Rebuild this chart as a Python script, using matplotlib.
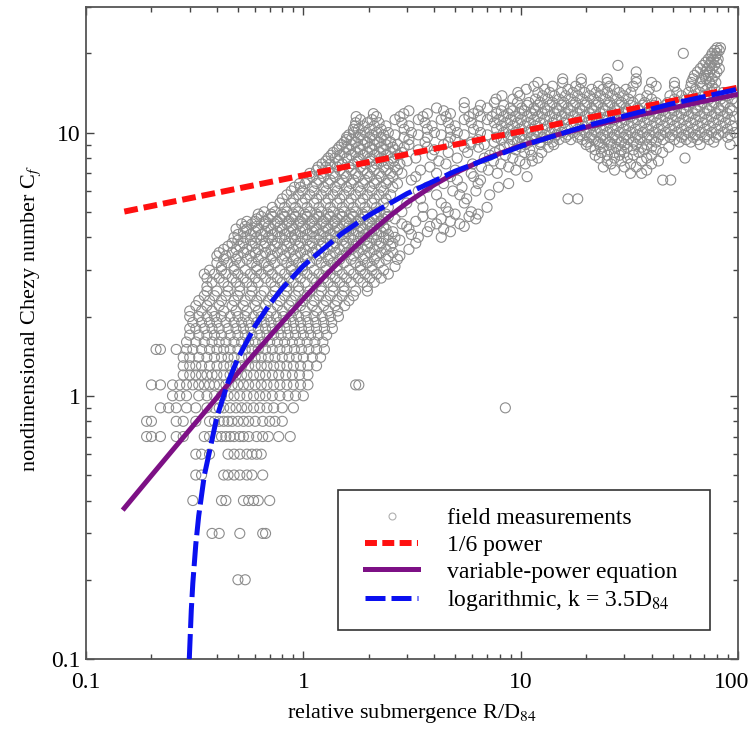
import matplotlib
matplotlib.use('Agg')
import matplotlib.pyplot as plt
import matplotlib.transforms as mtransforms
from matplotlib.lines import Line2D
from matplotlib.patches import Rectangle
from matplotlib.ticker import LogLocator, NullFormatter

# Fonte serifada parecida com Times
plt.rcParams['font.family'] = ['Liberation Serif', 'DejaVu Serif']
plt.rcParams['mathtext.fontset'] = 'stix'

# Medições de campo - parte baixa (valores de C_f arredondados a 0.1)
low_levels = [0.2, 0.3, 0.4, 0.5, 0.6, 0.7, 0.8, 0.9, 1.0, 1.1,
              1.2, 1.3, 1.4, 1.5, 1.6, 1.7, 1.8, 1.9, 2.0]
low_rows = [
    [0.50, 0.54],
    [0.38, 0.41, 0.51, 0.65, 0.67],
    [0.31, 0.42, 0.44, 0.53, 0.56, 0.59, 0.62, 0.70],
    [0.32, 0.34, 0.43, 0.45, 0.48, 0.51, 0.55, 0.58, 0.65],
    [0.32, 0.34, 0.37, 0.45, 0.48, 0.51, 0.55, 0.58, 0.61, 0.64],
    [0.19, 0.20, 0.22, 0.26, 0.28, 0.35, 0.37, 0.40, 0.42, 0.44, 0.46, 0.48,
     0.51, 0.53, 0.56, 0.61, 0.65, 0.69, 0.77, 0.87],
    [0.19, 0.20, 0.26, 0.28, 0.32, 0.37, 0.39, 0.41, 0.43, 0.45, 0.47, 0.50,
     0.53, 0.56, 0.60, 0.65, 0.70, 0.74, 0.80],
    [0.22, 0.24, 0.26, 0.29, 0.32, 0.36, 0.39, 0.41, 0.43, 0.46, 0.49, 0.52,
     0.55, 0.59, 0.63, 0.68, 0.73, 0.80, 0.90, 8.5],
    [0.25, 0.27, 0.29, 0.33, 0.36, 0.39, 0.42, 0.45, 0.48, 0.51, 0.55, 0.59,
     0.63, 0.67, 0.72, 0.78, 0.85, 0.92, 1.0],
    [0.20, 0.22, 0.25, 0.27, 0.29, 0.31, 0.33, 0.35, 0.37, 0.39, 0.41, 0.44,
     0.47, 0.50, 0.53, 0.56, 0.60, 0.64, 0.68, 0.73, 0.78, 0.84, 0.90, 0.97,
     1.05, 1.74, 1.8],
    [0.28, 0.30, 0.32, 0.34, 0.36, 0.38, 0.40, 0.43, 0.46, 0.49, 0.52, 0.55,
     0.59, 0.63, 0.67, 0.72, 0.77, 0.83, 0.89, 0.96, 1.05],
    [0.28, 0.30, 0.32, 0.34, 0.37, 0.40, 0.43, 0.46, 0.49, 0.52, 0.56, 0.60,
     0.64, 0.68, 0.73, 0.78, 0.84, 0.90, 0.97, 1.05, 1.15],
    [0.28, 0.30, 0.33, 0.36, 0.39, 0.42, 0.45, 0.48, 0.52, 0.56, 0.60, 0.64,
     0.69, 0.74, 0.80, 0.86, 0.93, 1.0, 1.1, 1.2],
    [0.21, 0.22, 0.26, 0.29, 0.31, 0.34, 0.37, 0.40, 0.43, 0.46, 0.50, 0.54,
     0.58, 0.62, 0.67, 0.72, 0.78, 0.84, 0.91, 0.98, 1.06, 1.15, 1.25],
    [0.29, 0.32, 0.35, 0.38, 0.41, 0.44, 0.48, 0.52, 0.56, 0.60, 0.65, 0.70,
     0.76, 0.82, 0.89, 0.96, 1.04, 1.13, 1.23],
    [0.30, 0.33, 0.36, 0.39, 0.42, 0.46, 0.50, 0.54, 0.58, 0.63, 0.68, 0.73,
     0.79, 0.85, 0.92, 1.0, 1.08, 1.17, 1.28],
    [0.30, 0.32, 0.35, 0.38, 0.41, 0.45, 0.49, 0.53, 0.57, 0.62, 0.67, 0.72,
     0.78, 0.84, 0.91, 0.98, 1.06, 1.15, 1.25, 1.36],
    [0.31, 0.34, 0.37, 0.40, 0.44, 0.48, 0.52, 0.56, 0.61, 0.66, 0.71, 0.77,
     0.83, 0.90, 0.97, 1.05, 1.14, 1.24, 1.35],
    [0.30, 0.33, 0.36, 0.39, 0.42, 0.46, 0.50, 0.54, 0.59, 0.64, 0.69, 0.75,
     0.81, 0.88, 0.95, 1.03, 1.12, 1.22, 1.33, 1.45],
]

# Medições de campo - ramo íngreme (C_f entre 2 e 9)
mid_levels = [2.1, 2.2, 2.3, 2.4, 2.5, 2.6, 2.7, 2.8, 2.9, 3.0,
              3.1, 3.2, 3.3, 3.4, 3.5, 3.6, 3.7, 3.8, 3.9, 4.0,
              4.1, 4.2, 4.3, 4.4, 4.5, 4.6, 4.7, 4.8, 4.9, 5.0,
              5.2, 5.4, 5.6, 5.8, 6.0, 6.2, 6.4, 6.6, 6.8, 7.0,
              7.2, 7.4, 7.6, 7.8, 8.0, 8.2, 8.4, 8.6, 8.8, 9.0]
mid_rows = [
    [0.30, 0.34, 0.38, 0.43, 0.49, 0.55, 0.62, 0.71, 0.80, 0.90, 1.02, 1.15,
     1.30, 1.44],
    [0.32, 0.36, 0.41, 0.47, 0.53, 0.60, 0.67, 0.76, 0.86, 0.97, 1.10, 1.24,
     1.40, 1.55],
    [0.33, 0.37, 0.42, 0.48, 0.54, 0.61, 0.69, 0.78, 0.88, 0.99, 1.12, 1.27,
     1.43, 1.62],
    [0.35, 0.39, 0.44, 0.50, 0.57, 0.64, 0.72, 0.82, 0.92, 1.04, 1.18, 1.33,
     1.51, 1.70],
    [0.36, 0.40, 0.45, 0.51, 0.58, 0.66, 0.74, 0.84, 0.95, 1.07, 1.21, 1.37,
     1.54, 1.74, 1.97],
    [0.36, 0.45, 0.51, 0.58, 0.74, 0.84, 0.95, 1.21, 1.37, 1.54, 1.97],
    [0.38, 0.43, 0.49, 0.55, 0.62, 0.71, 0.80, 0.90, 1.02, 1.15, 1.30, 1.47,
     1.66, 1.88, 2.12],
    [0.36, 0.41, 0.47, 0.53, 0.60, 0.67, 0.76, 0.86, 0.97, 1.10, 1.24, 1.40,
     1.58, 1.79, 2.02, 2.28],
    [0.35, 0.39, 0.44, 0.50, 0.57, 0.64, 0.72, 0.82, 0.92, 1.04, 1.18, 1.33,
     1.51, 1.70, 1.92, 2.17, 2.46],
    [0.37, 0.42, 0.48, 0.54, 0.61, 0.69, 0.78, 0.88, 0.99, 1.12, 1.27, 1.43,
     1.62, 1.83, 2.07, 2.34],
    [0.42, 0.48, 0.61, 0.69, 0.88, 0.99, 1.27, 1.43, 1.83, 2.07, 2.64],
    [0.40, 0.45, 0.51, 0.58, 0.66, 0.74, 0.84, 0.95, 1.07, 1.21, 1.37, 1.54,
     1.74, 1.97, 2.23],
    [0.43, 0.49, 0.55, 0.62, 0.71, 0.80, 0.90, 1.02, 1.15, 1.30, 1.47, 1.66,
     1.88, 2.12, 2.40, 2.71],
    [0.40, 0.44, 0.50, 0.57, 0.64, 0.72, 0.82, 0.92, 1.04, 1.18, 1.33, 1.51,
     1.70, 1.92, 2.17, 2.46, 2.78],
    [0.41, 0.47, 0.53, 0.60, 0.67, 0.76, 0.86, 0.97, 1.10, 1.24, 1.40, 1.58,
     1.79, 2.02, 2.28, 2.58],
    [0.43, 0.49, 0.55, 0.62, 0.71, 0.80, 0.90, 1.02, 1.15, 1.30, 1.47, 1.66,
     1.88, 2.12, 2.40, 3.06],
    [0.45, 0.51, 0.58, 0.66, 0.74, 0.84, 0.95, 1.07, 1.21, 1.37, 1.54, 1.74,
     1.97, 2.23, 2.52],
    [0.47, 0.53, 0.60, 0.67, 0.76, 0.86, 0.97, 1.10, 1.24, 1.40, 1.58, 1.79,
     2.02, 2.28, 2.58, 3.29],
    [0.50, 0.57, 0.64, 0.72, 0.82, 0.92, 1.04, 1.18, 1.33, 1.51, 1.70, 1.92,
     2.17, 2.46, 2.78],
    [0.48, 0.54, 0.61, 0.69, 0.78, 0.88, 0.99, 1.12, 1.27, 1.43, 1.62, 1.83,
     2.07, 2.34, 2.64, 3.38, 4.31],
    [0.50, 0.57, 0.64, 0.72, 0.82, 0.92, 1.04, 1.18, 1.33, 1.51, 1.70, 1.92,
     2.17, 2.46, 3.14],
    [0.53, 0.60, 0.67, 0.76, 0.86, 0.97, 1.10, 1.24, 1.40, 1.58, 1.79, 2.02,
     2.28, 2.58, 3.72, 4.75],
    [0.49, 0.55, 0.62, 0.71, 0.80, 0.90, 1.02, 1.15, 1.30, 1.47, 1.66, 1.88,
     2.12, 2.40, 3.06, 4.42],
    [0.54, 0.61, 0.69, 0.78, 0.88, 0.99, 1.12, 1.27, 1.43, 1.62, 1.83, 2.07,
     2.34, 2.99, 3.82, 5.50],
    [0.52, 0.58, 0.66, 0.74, 0.84, 0.95, 1.07, 1.21, 1.37, 1.54, 1.74, 1.97,
     2.23, 2.84, 4.10, 5.24],
    [0.55, 0.60, 0.67, 0.76, 0.86, 0.97, 1.10, 1.24, 1.40, 1.58, 1.79, 2.02,
     2.28, 3.29, 4.75],
    [0.61, 0.69, 0.78, 0.88, 0.99, 1.12, 1.27, 1.43, 1.62, 1.83, 2.07, 2.34,
     2.64, 4.31, 6.22],
    [0.64, 0.72, 0.82, 0.92, 1.04, 1.18, 1.33, 1.51, 1.70, 1.92, 2.17, 2.46,
     3.55, 5.78],
    [0.62, 0.71, 0.80, 0.90, 1.02, 1.15, 1.30, 1.47, 1.66, 1.88, 2.12, 2.40,
     3.91, 4.99, 6.37],
    [0.66, 0.74, 0.84, 0.95, 1.07, 1.21, 1.37, 1.54, 1.74, 1.97, 2.23, 2.84,
     4.64, 5.92],
    [0.72, 0.82, 0.92, 1.04, 1.18, 1.33, 1.51, 1.70, 1.92, 2.17, 2.46, 3.55,
     4.53, 7.0],
    [0.78, 0.88, 0.99, 1.12, 1.27, 1.43, 1.62, 1.83, 2.07, 2.34, 2.99, 4.31,
     5.50],
    [0.80, 0.90, 1.02, 1.15, 1.30, 1.47, 1.66, 1.88, 2.12, 2.40, 3.46, 5.64,
     16.5, 18.3],
    [0.84, 0.95, 1.07, 1.21, 1.37, 1.54, 1.74, 1.97, 2.23, 2.52, 4.10, 5.24,
     7.2],
    [0.88, 0.99, 1.12, 1.27, 1.43, 1.62, 1.83, 2.07, 2.34, 3.38, 4.87, 6.22],
    [0.91, 0.97, 1.10, 1.24, 1.40, 1.58, 1.79, 2.02, 2.28, 2.58, 3.72, 5.37,
     7.9],
    [0.96, 1.02, 1.15, 1.30, 1.47, 1.66, 1.88, 2.12, 2.40, 2.71, 4.42, 6.37,
     8.8],
    [1.04, 1.18, 1.33, 1.51, 1.70, 1.92, 2.17, 2.46, 3.14, 5.11, 6.53, 45,
     49],
    [1.10, 1.24, 1.40, 1.58, 1.79, 2.02, 2.28, 2.58, 3.29, 4.75, 6.07, 10.7],
    [1.07, 1.21, 1.37, 1.54, 1.74, 1.97, 2.23, 2.52, 2.84, 4.10, 5.92, 7.8,
     32, 36],
    [1.15, 1.30, 1.47, 1.66, 1.88, 2.12, 2.40, 2.71, 3.46, 5.0, 7.1, 9.5, 27,
     38],
    [1.17, 1.27, 1.43, 1.62, 1.83, 2.07, 2.34, 2.64, 3.82, 6.6, 8.8, 24, 30,
     34],
    [1.22, 1.33, 1.51, 1.70, 1.92, 2.17, 2.46, 2.78, 4.53, 6.0, 8.1, 10.5, 26,
     32, 40],
    [1.27, 1.45, 1.78, 2.03, 2.3, 2.6, 3.0, 4.2, 7.5, 9.9, 11.3, 25, 29, 36,
     43],
    [1.30, 1.40, 1.58, 1.79, 2.02, 2.28, 2.58, 3.29, 5.1, 6.8, 9.2, 12.0, 23,
     27, 31, 38, 57],
    [1.34, 1.47, 1.66, 1.88, 2.12, 2.40, 2.71, 3.91, 7.2, 8.5, 11.2, 22, 25,
     28.5, 33, 40],
    [1.37, 1.54, 1.74, 1.97, 2.23, 2.52, 2.84, 4.64, 5.7, 7.6, 10.4, 12.5,
     23.5, 27, 30, 35, 45],
    [1.43, 1.62, 1.83, 2.07, 2.34, 2.64, 3.38, 4.0, 8.0, 9.5, 11.0, 22, 25.5,
     29, 33, 37, 42],
    [1.46, 1.58, 1.79, 2.02, 2.28, 2.58, 2.91, 3.72, 5.5, 6.4, 8.4, 10.0,
     13.4, 21, 24, 27.5, 31, 36, 40, 48],
    [1.50, 1.66, 1.88, 2.12, 2.40, 2.71, 3.06, 4.42, 5.9, 6.8, 8.9, 10.5,
     12.3, 14.2, 20, 23, 26, 30, 34, 38, 67, 92],
]

# Medições de campo - faixa superior (C_f acima de 9)
high_levels = [9.2, 9.4, 9.6, 9.8, 10.0, 10.3, 10.6, 10.9, 11.2, 11.5,
               11.8, 12.1, 12.4, 12.7, 13.0, 13.4, 13.8, 14.2, 14.6, 15.0,
               15.5, 16.0, 16.5, 17.0, 17.5, 18.0, 18.5, 19.0, 19.5, 20.0,
               20.5, 21.0]
high_rows = [
    [1.54, 1.74, 1.97, 2.23, 2.52, 3.63, 4.64, 5.92, 7.56, 9.66, 10.9, 12.3,
     14.0, 20.2, 22.8, 25.7, 29.1, 32.9, 42.0, 53.6, 60.6, 77.3],
    [1.58, 1.66, 1.88, 2.12, 2.40, 3.06, 4.99, 6.37, 8.14, 9.20, 10.4, 11.7,
     13.3, 15.0, 17.0, 19.2, 21.7, 24.5, 27.7, 31.3, 35.4, 40.0, 45.2, 51.0,
     57.7, 65.2, 73.6],
    [1.58, 1.79, 2.02, 2.28, 2.91, 3.72, 4.75, 7.75, 8.76, 9.90, 11.2, 12.6,
     14.3, 16.1, 18.3, 20.7, 23.3, 26.4, 29.8, 33.7, 38.1, 43.0, 48.6, 54.9,
     62.1, 70.2, 79.2, 89.5],
    [1.62, 1.83, 2.07, 2.34, 2.64, 3.38, 4.31, 5.50, 7.03, 8.98, 10.1, 11.5,
     12.9, 14.6, 16.5, 18.7, 21.2, 23.9, 27.0, 30.5, 34.5, 39.0, 44.1, 49.8,
     56.3, 63.6, 71.9, 81.3, 91.9],
    [1.70, 1.92, 2.17, 2.46, 3.14, 4.01, 5.11, 6.53, 8.34, 9.43, 10.7, 12.0,
     13.6, 15.4, 17.4, 19.7, 22.2, 25.1, 28.4, 32.1, 36.3, 41.0, 46.3, 52.3,
     59.1, 66.8, 75.5, 85.3, 96.4],
    [1.70, 1.79, 2.02, 2.28, 2.91, 3.72, 4.75, 6.07, 7.75, 8.76, 9.90, 11.2,
     12.6, 14.3, 16.1, 18.3, 20.7, 23.3, 26.4, 29.8, 33.7, 38.1, 43.0, 48.6,
     54.9, 62.1, 70.2, 79.2, 89.5],
    [1.73, 1.88, 2.12, 2.40, 3.06, 3.91, 4.99, 6.37, 8.14, 9.20, 10.4, 11.7,
     13.3, 15.0, 17.0, 19.2, 21.7, 24.5, 27.7, 31.3, 35.4, 40.0, 45.2, 51.0,
     57.7, 65.2, 73.6, 83.2, 94.0],
    [1.74, 1.97, 2.23, 2.84, 3.63, 4.64, 5.92, 7.56, 8.55, 9.66, 10.9, 12.3,
     14.0, 15.8, 17.9, 20.2, 22.8, 25.7, 29.1, 32.9, 37.2, 42.0, 47.5, 53.6,
     60.6, 68.5, 77.3, 87.4],
    [1.83, 2.07, 2.64, 3.38, 4.31, 5.50, 7.03, 7.94, 8.98, 10.1, 11.5, 12.9,
     14.6, 16.5, 18.7, 21.2, 23.9, 27.0, 30.5, 34.5, 39.0, 44.1, 49.8, 56.3,
     63.6, 71.9, 81.3, 91.9],
    [1.75, 2.17, 2.78, 3.55, 4.53, 5.78, 6.53, 7.38, 8.34, 9.43, 10.7, 12.0,
     13.6, 15.4, 17.4, 19.7, 22.2, 25.1, 28.4, 32.1, 36.3, 41.0, 46.3, 52.3,
     59.1, 66.8, 75.5, 85.3, 96.4],
    [2.1, 2.9, 3.72, 4.75, 6.07, 7.75, 8.76, 9.90, 11.2, 12.6, 14.3, 16.1,
     18.3, 20.7, 23.3, 26.4, 29.8, 33.7, 38.1, 43.0, 48.6, 54.9, 62.1, 70.2,
     79.2, 89.5],
    [3.06, 4.42, 6.37, 8.14, 9.20, 10.4, 11.7, 13.3, 15.0, 17.0, 19.2, 21.7,
     24.5, 27.7, 31.3, 35.4, 40.0, 45.2, 51.0, 57.7, 65.2, 73.6, 83.2, 94.0],
    [4.1, 5.50, 7.03, 8.98, 10.1, 11.5, 12.9, 14.6, 16.5, 18.7, 21.2, 23.9,
     27.0, 30.5, 34.5, 39.0, 44.1, 49.8, 56.3, 63.6, 71.9, 81.3, 91.9],
    [6.53, 8.34, 10.7, 12.0, 13.6, 15.4, 17.4, 19.7, 22.2, 25.1, 28.4, 32.1,
     36.3, 41.0, 46.3, 52.3, 59.1, 66.8, 75.5, 85.3],
    [5.5, 7.56, 9.66, 10.9, 12.3, 14.0, 15.8, 17.9, 20.2, 22.8, 25.7, 29.1,
     32.9, 37.2, 42.0, 47.5, 53.6, 60.6, 68.5, 77.3, 87.4, 98.7],
    [7.7, 9.20, 11.7, 13.3, 15.0, 17.0, 19.2, 21.7, 24.5, 27.7, 31.3, 35.4,
     40.0, 51.0, 57.7, 65.2, 73.6, 83.2, 94.0],
    [8.2, 9.90, 12.6, 14.3, 16.1, 18.3, 20.7, 23.3, 26.4, 29.8, 38.1, 48.6,
     54.9, 62.1, 70.2, 79.2, 89.5],
    [9.7, 12.0, 13.6, 15.4, 17.4, 19.7, 22.2, 25.1, 28.4, 32.1, 52.3, 59.1,
     66.8, 75.5, 85.3],
    [10.6, 12.9, 16.5, 18.7, 21.2, 23.9, 27.0, 30.5, 39.0, 63.6, 71.9, 78],
    [11.5, 14.0, 17.9, 22.8, 25.7, 32.9, 42.0, 51, 60.6, 68.5, 76],
    [12, 15.6, 19, 25, 34, 40, 51, 61, 67, 74, 79],
    [15.6, 19, 25, 34, 62, 68, 71, 76],
    [63, 70, 73, 78],
    [34, 65, 71, 74, 80],
    [67, 72, 76, 82],
    [28, 69, 74, 78],
    [71, 75, 80],
    [73, 77, 81],
    [75, 79],
    [56, 76, 80],
    [78, 82],
    [80, 83],
]

# Curvas
power_x = [0.15, 0.3, 1.0, 3.0, 10.0, 30.0, 100.0]
power_y = [5.01, 5.63, 6.88, 8.27, 10.10, 12.13, 14.82]

varpow_x = [0.15, 0.2, 0.25, 0.3, 0.4, 0.5, 0.6, 0.7, 0.8, 1.0, 1.2, 1.5,
            2.0, 2.5, 3.0, 4.0, 5.0, 7.0, 10.0, 15.0, 20.0, 30.0, 50.0,
            70.0, 100.0]
varpow_y = [0.374, 0.498, 0.621, 0.743, 0.984, 1.222, 1.455, 1.683, 1.905,
            2.333, 2.738, 3.301, 4.124, 4.820, 5.408, 6.335, 7.029, 7.995,
            8.913, 9.85, 10.47, 11.33, 12.41, 13.16, 13.98]

log_x = [0.2986, 0.305, 0.31, 0.32, 0.33, 0.35, 0.4, 0.45, 0.5, 0.6, 0.7,
         0.8, 1.0, 1.5, 2.0, 3.0, 5.0, 10.0, 20.0, 50.0, 100.0]
log_y = [0.1, 0.153, 0.194, 0.273, 0.350, 0.497, 0.830, 1.125, 1.388, 1.843,
         2.228, 2.561, 3.118, 4.131, 4.849, 5.862, 7.138, 8.868, 10.60,
         12.89, 14.62]

x_ticks = [0.1, 1, 10, 100]
x_tick_labels = ['0.1', '1', '10', '100']
y_ticks = [0.1, 1, 10]
y_tick_labels = ['0.1', '1', '10']


def main():
    # Monta a tabela de pontos a partir das linhas
    levels = low_levels + mid_levels + high_levels
    rows = low_rows + mid_rows + high_rows
    field_x, field_y = [], []
    for level, row in zip(levels, rows):
        for xv in row:
            field_x.append(xv)
            field_y.append(level)

    fig = plt.figure(figsize=(7.48, 7.35), dpi=100)
    ax = fig.add_axes([0.115, 0.1034, 0.8717, 0.8871])

    ax.scatter(field_x, field_y, s=52, facecolors='none', edgecolors='#8c8c8c',
               linewidths=0.8, zorder=2)

    ax.plot(power_x, power_y, color='#ff1010', lw=4.3, dashes=(2.3, 1.0),
            zorder=3)
    ax.plot(varpow_x, varpow_y, color='#7d1085', lw=3.6, zorder=4)
    ax.plot(log_x, log_y, color='#0a10f0', lw=3.6, dashes=(5.0, 1.2),
            zorder=5)

    ax.set_xscale('log')
    ax.set_yscale('log')
    ax.set_xlim(0.1, 100)
    ax.set_ylim(0.1, 30)

    ax.set_xticks(x_ticks)
    ax.set_xticklabels(x_tick_labels)
    ax.set_yticks(y_ticks)
    ax.set_yticklabels(y_tick_labels)
    ax.xaxis.set_minor_locator(LogLocator(base=10, subs=range(2, 10)))
    ax.yaxis.set_minor_locator(LogLocator(base=10, subs=range(2, 10)))
    ax.xaxis.set_minor_formatter(NullFormatter())
    ax.yaxis.set_minor_formatter(NullFormatter())

    ax.tick_params(which='both', direction='in', top=True, right=True,
                   color='#444444', labelsize=17, width=1.0)
    ax.tick_params(which='major', length=6)
    ax.tick_params(which='minor', length=3.5)
    ax.tick_params(axis='x', which='major', pad=9)
    ax.tick_params(axis='y', which='major', pad=4)
    for sp in ax.spines.values():
        sp.set_color('#555555')
        sp.set_linewidth(1.3)

    # Desloca o rótulo "100" para dentro da figura
    shift = mtransforms.ScaledTranslation(-6.5 / 100, 0, fig.dpi_scale_trans)
    last = ax.get_xticklabels()[-1]
    last.set_transform(last.get_transform() + shift)

    ax.set_xlabel(r'relative submergence R/D$_{84}$', fontsize=16)
    ax.xaxis.set_label_coords(0.5, -0.066)
    ax.set_ylabel(r'nondimensional Chezy number C$_f$', fontsize=16)
    ax.yaxis.set_label_coords(-0.066, 0.523)

    # Moldura da legenda desenhada à parte
    frame = Rectangle((0.3865, 0.0445), 0.5705, 0.2147,
                      transform=ax.transAxes, facecolor='white',
                      edgecolor='#333333', linewidth=1.2, zorder=6)
    ax.add_patch(frame)

    handles = [
        Line2D([], [], ls='none', marker='o', markersize=5,
               markerfacecolor='none', markeredgecolor='#b0b0b0',
               markeredgewidth=0.8),
        Line2D([], [], color='#ff1010', lw=4.3, dashes=(2.0, 0.9)),
        Line2D([], [], color='#7d1085', lw=3.6),
        Line2D([], [], color='#0a10f0', lw=3.6, dashes=(4.0, 1.2)),
    ]
    labels = ['field measurements', '1/6 power', 'variable-power equation',
              r'logarithmic, k = 3.5D$_{84}$']
    leg = ax.legend(handles, labels, loc='upper left',
                    bbox_to_anchor=(0.428, 0.232), borderaxespad=0,
                    borderpad=0, fontsize=17, frameon=False,
                    handlelength=2.25, handletextpad=1.2, labelspacing=0.22)
    leg.set_zorder(7)

    fig.savefig('out.png', dpi=100)
    plt.close(fig)


if __name__ == '__main__':
    main()
